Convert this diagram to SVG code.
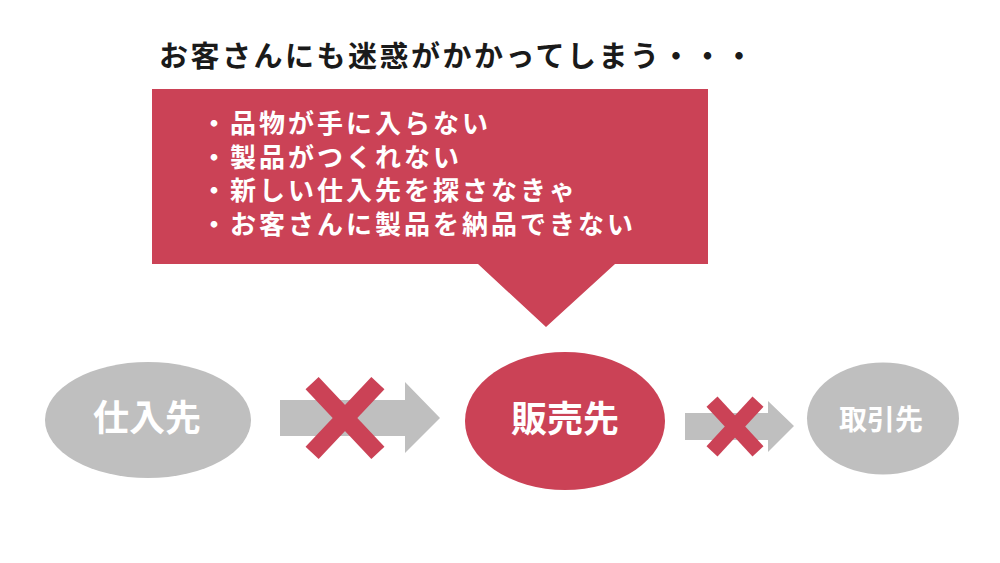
<svg xmlns="http://www.w3.org/2000/svg" width="1000" height="563" viewBox="0 0 1000 563">
  <style>
    .jp { font-family: "Noto Sans CJK JP", "Noto Sans CJK SC", sans-serif; font-weight: bold; }
    .title { font-size: 29px; fill: #1a1a1a; letter-spacing: 2.5px; }
    .bullet { font-size: 26px; fill: #ffffff; letter-spacing: 3px; }
    .node-text { fill: #ffffff; text-anchor: middle; }
    .red { fill: #cb4256; }
    .gray { fill: #bfbfbf; }
    .cross { stroke: #cb4256; stroke-linecap: butt; fill: none; }
  </style>
  <rect x="0" y="0" width="1000" height="563" fill="#ffffff"/>

  <g id="title">
    <text class="jp title" x="159" y="67">お客さんにも迷惑がかかってしまう・・・</text>
  </g>

  <g id="callout">
    <path class="red" d="M152,89 H708 V264 H615 L546,327 L478,264 H152 Z"/>
    <text class="jp bullet" x="201" y="133">・品物が手に入らない</text>
    <text class="jp bullet" x="201" y="166.5">・製品がつくれない</text>
    <text class="jp bullet" x="201" y="200">・新しい仕入先を探さなきゃ</text>
    <text class="jp bullet" x="201" y="233.5">・お客さんに製品を納品できない</text>
  </g>

  <g id="connectors">
    <g id="arrow1">
      <path class="gray" d="M280,400 H405 V382 L440,418 L405,453 V436 H280 Z"/>
      <line class="cross" stroke-width="18" x1="312.1" y1="383.1" x2="377.9" y2="452.9"/>
      <line class="cross" stroke-width="18" x1="377.9" y1="383.1" x2="312.1" y2="452.9"/>
    </g>
    <g id="arrow2">
      <path class="gray" d="M685,413 H768 V401 L794,426 L768,452 V440 H685 Z"/>
      <line class="cross" stroke-width="15" x1="712" y1="401.6" x2="758" y2="451.4"/>
      <line class="cross" stroke-width="15" x1="758" y1="401.6" x2="712" y2="451.4"/>
    </g>
  </g>

  <g id="node-shiiresaki">
    <ellipse class="gray" cx="148" cy="420" rx="103" ry="58"/>
    <text class="jp node-text" x="147" y="431" font-size="36">仕入先</text>
  </g>

  <g id="node-hanbaisaki">
    <ellipse class="red" cx="565" cy="421" rx="100" ry="69"/>
    <text class="jp node-text" x="565" y="431.5" font-size="36">販売先</text>
  </g>

  <g id="node-torihikisaki">
    <ellipse class="gray" cx="883" cy="418.5" rx="76" ry="56"/>
    <text class="jp node-text" x="881" y="429.5" font-size="28">取引先</text>
  </g>
</svg>
